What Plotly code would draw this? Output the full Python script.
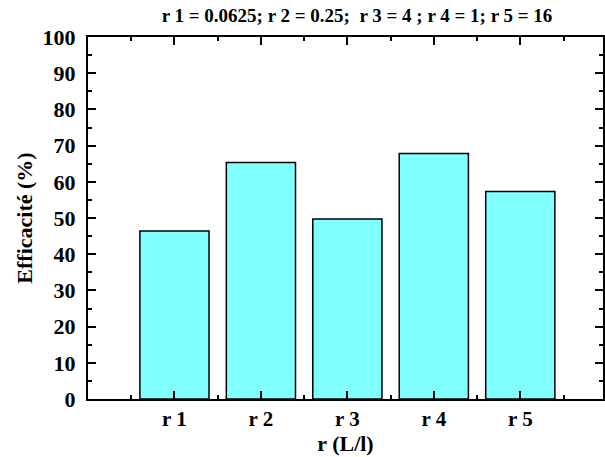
import plotly.graph_objects as go

categories = ["r 1", "r 2", "r 3", "r 4", "r 5"]
efficacite = [46.4, 65.3, 49.7, 67.8, 57.3]
title_text = "r 1 = 0.0625; r 2 = 0.25;&nbsp; r 3 = 4 ; r 4 = 1; r 5 = 16"

positions = [i + 1 for i in range(len(categories))]

FONT = "Liberation Serif"

fig = go.Figure()
fig.add_trace(go.Bar(
    x=positions, y=efficacite, width=0.8,
    marker=dict(color="#80FFFF", line=dict(color="black", width=1.5)),
))

fig.update_layout(
    width=605, height=457,
    margin=dict(l=88, r=0, t=37, b=58),
    plot_bgcolor="white", paper_bgcolor="white",
    showlegend=False,
    font=dict(family=FONT, color="black"),
    title=dict(text="<b>" + title_text + "</b>", x=357 / 605, xanchor="center",
               y=1 - 15 / 457, yanchor="middle", font=dict(size=19, family=FONT)),
)

fig.update_xaxes(
    range=[0, (605 - 88.25) / 86.75],
    tickvals=positions, ticktext=["<b>%s</b>" % c for c in categories],
    ticks="inside", ticklen=8, tickwidth=2, tickcolor="black",
    minor=dict(tick0=0.5, dtick=1, ticks="inside", ticklen=4, tickwidth=2, tickcolor="black"),
    showline=True, linewidth=2, linecolor="black", mirror="allticks",
    showgrid=False, zeroline=False,
    tickfont=dict(size=21, family=FONT),
    title=dict(text="<b>r (L/l)</b>", font=dict(size=22, family=FONT), standoff=0),
)
fig.update_yaxes(
    range=[0, 100], dtick=10, tick0=0,
    tickvals=list(range(0, 101, 10)),
    ticktext=["<b>%d</b>" % v for v in range(0, 101, 10)],
    ticks="inside", ticklen=8, tickwidth=2, tickcolor="black",
    minor=dict(tick0=5, dtick=10, ticks="inside", ticklen=4, tickwidth=2, tickcolor="black"),
    showline=True, linewidth=2, linecolor="black", mirror="allticks",
    showgrid=False, zeroline=False,
    tickfont=dict(size=22, family=FONT),
    ticklabelstandoff=6,
    title=dict(text="<b>Efficacité (%)</b>", font=dict(size=22, family=FONT), standoff=4),
)

fig.write_html("out.html")
